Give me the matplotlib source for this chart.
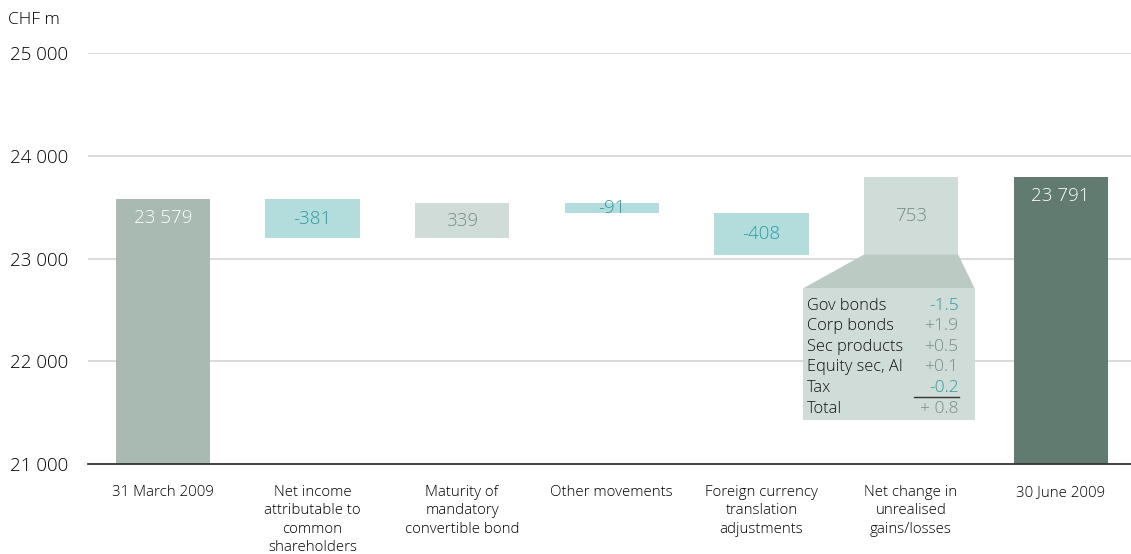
import matplotlib
matplotlib.use("Agg")
import matplotlib.pyplot as plt
from matplotlib.patches import Polygon, Rectangle

categories = ["31 March 2009", "Net income\nattributable to\ncommon\nshareholders",
              "Maturity of\nmandatory\nconvertible bond", "Other movements",
              "Foreign currency\ntranslation\nadjustments", "Net change in\nunrealised\ngains/losses",
              "30 June 2009"]
start_value = 23579
changes = [-381, 339, -91, -408, 753]
end_value = 23791
value_labels = ["23 579", "-381", "339", "-91", "-408", "753", "23 791"]

inset_labels = ["Gov bonds", "Corp bonds", "Sec products", "Equity sec, AI", "Tax", "Total"]
inset_values = ["-1.5", "+1.9", "+0.5", "+0.1", "-0.2", "+ 0.8"]

yticks = [21000, 22000, 23000, 24000, 25000]
ytick_labels = ["21 000", "22 000", "23 000", "24 000", "25 000"]

C_START = "#a9bab2"
C_END = "#627b70"
C_NEG = "#b3dcdc"
C_POS = "#d0dcd7"
T_NEG = "#2a9ca1"
T_POS = "#7a8c84"
C_TRAP = "#bccac4"

plt.rcParams['font.family'] = ['Open Sans', 'DejaVu Sans']
plt.rcParams['font.weight'] = 'light'

fig = plt.figure(figsize=(11.31, 5.54), dpi=100)
ax = fig.add_axes([88/1131, 1-464/554, 1043/1131, (464-53)/554])
base = 21000
ax.set_ylim(base, 25000)
ax.set_xlim(-0.5, 6.47)
w = 0.63

for y in yticks[1:]:
    ax.axhline(y, color="#d4d4d4", lw=1.2, zorder=0)
ax.axhline(base, color="#333333", lw=1.3, zorder=3, clip_on=False)

# start bar
ax.bar(0, start_value - base, bottom=base, width=w, color=C_START, zorder=2)
ax.text(0, start_value - 185, value_labels[0], ha="center", va="center", color="white", fontsize=13.5)

level = start_value
for i, ch in enumerate(changes, start=1):
    lo = min(level, level + ch)
    col = C_NEG if ch < 0 else C_POS
    tcol = T_NEG if ch < 0 else T_POS
    ax.bar(i, abs(ch), bottom=lo, width=w, color=col, zorder=2)
    ax.text(i, lo + abs(ch) / 2, value_labels[i], ha="center", va="center", color=tcol, fontsize=13.5, zorder=4)
    prev_level = level
    level += ch

# end bar
ax.bar(6, end_value - base, bottom=base, width=w, color=C_END, zorder=2)
ax.text(6, end_value - 180, value_labels[6], ha="center", va="center", color="white", fontsize=13.5)

# inset for net change in unrealised gains
i5 = 5
bar_bottom = prev_level
bx0, bx1 = 4.28, 5.425
box_top, box_bot = 22710, 21425
trap = Polygon([[i5 - w/2, bar_bottom], [i5 + w/2, bar_bottom], [bx1, box_top], [bx0, box_top]],
               closed=True, color=C_TRAP, lw=0, zorder=2)
ax.add_patch(trap)
ax.add_patch(Rectangle((bx0, box_bot), bx1 - bx0, box_top - box_bot, color=C_POS, lw=0, zorder=2))
row_h = 200
y0 = box_top - 170
for k, (lab, val) in enumerate(zip(inset_labels, inset_values)):
    yy = y0 - k * row_h
    ax.text(bx0 + 0.027, yy, lab, ha="left", va="center", fontsize=11.8, color="#111111", zorder=4)
    vcol = T_NEG if val.startswith("-") else T_POS
    ax.text(5.318, yy, val, ha="right", va="center", fontsize=12.5, color=vcol, zorder=4)
ax.plot([5.02, 5.318], [y0 - 4.5 * row_h + 10] * 2, color="#333333", lw=1, zorder=4)

ax.set_yticks(yticks)
ax.set_yticklabels(ytick_labels, fontsize=13.5)
ax.set_xticks(range(len(categories)))
ax.set_xticklabels(categories, fontsize=10.8, linespacing=1.32)
ax.tick_params(axis="both", length=0)
ax.tick_params(axis="y", pad=14)
ax.tick_params(axis="x", pad=15)
for s in ax.spines.values():
    s.set_visible(False)

fig.text(8/1131, 1-20/554, "CHF m", fontsize=12.5, ha="left", va="center")

fig.savefig("out.png", dpi=100)
